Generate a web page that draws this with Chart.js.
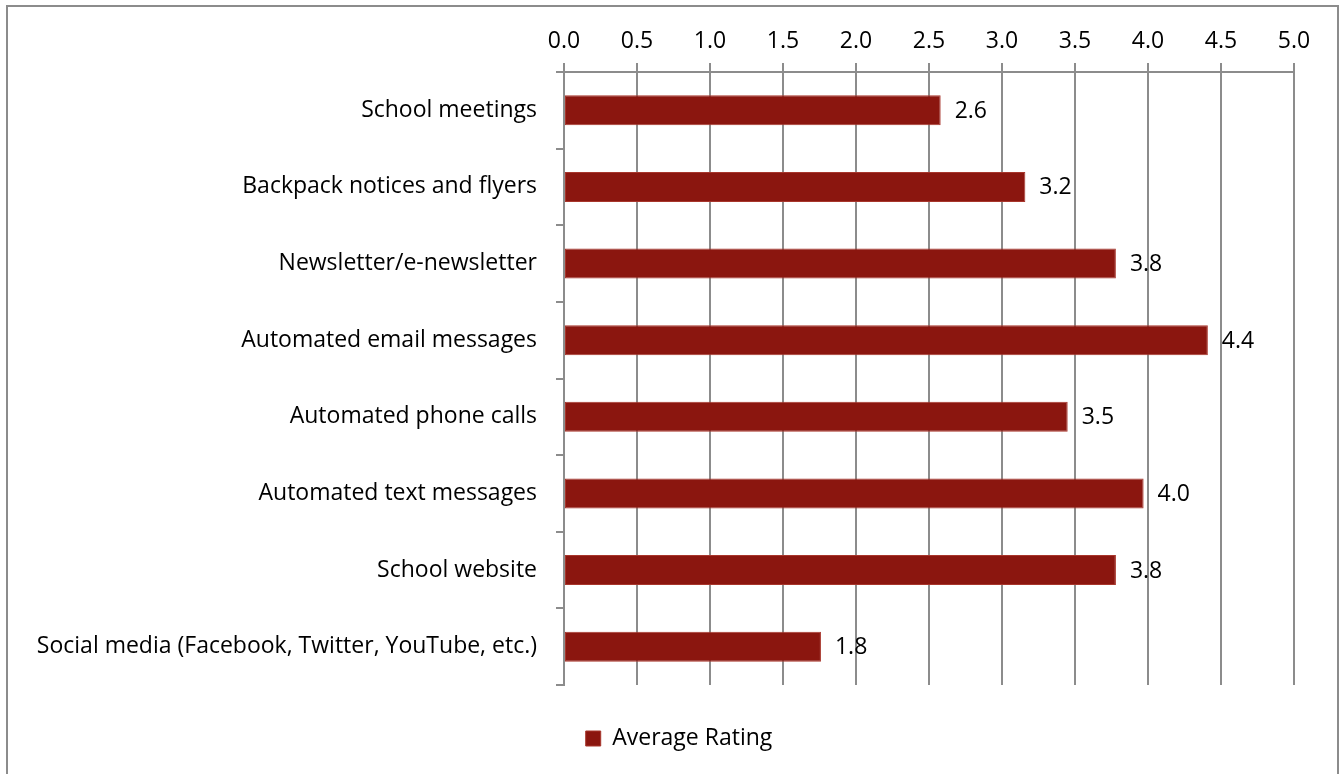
<!DOCTYPE html>
<html>
<head>
<meta charset="utf-8">
<script src="https://cdn.jsdelivr.net/npm/chart.js@4"></script>
<style>
  body { margin: 0; background: #fff; }
  #frame {
    position: absolute; left: 6px; top: 5px; width: 1329px; height: 800px;
    border: 2px solid #8c8c8c; box-sizing: content-box;
  }
  #wrap { position: absolute; left: 0; top: 0; width: 1340px; height: 774px; }
</style>
</head>
<body>
<div id="frame"></div>
<div id="wrap"><canvas id="chart" width="1340" height="774"></canvas></div>
<script>
// Chart data
const categories = [
  "School meetings",
  "Backpack notices and flyers",
  "Newsletter/e-newsletter",
  "Automated email messages",
  "Automated phone calls",
  "Automated text messages",
  "School website",
  "Social media (Facebook, Twitter, YouTube, etc.)",
];
const averageRating = [2.58, 3.16, 3.78, 4.41, 3.45, 3.97, 3.78, 1.76];
const axisMin = 0;
const axisMax = 5;
const axisStep = 0.5;

const barRed = "#8b160f";
const gridGray = "#8c8c8c";
const fontFamily = "'Open Sans', sans-serif";
const fontSize = 23;

// draws the value next to each bar
const valueLabels = {
  id: "valueLabels",
  afterDatasetsDraw(chart) {
    const ctx = chart.ctx;
    const meta = chart.getDatasetMeta(0);
    ctx.save();
    ctx.font = fontSize + "px " + fontFamily;
    ctx.fillStyle = "#000";
    ctx.textAlign = "left";
    ctx.textBaseline = "middle";
    meta.data.forEach((bar, i) => {
      ctx.fillText(averageRating[i].toFixed(1), bar.x + 14, bar.y + 1);
    });
    ctx.restore();
  },
};

// legend sits a bit right of the canvas centre in the original
const shiftLegend = {
  id: "shiftLegend",
  afterLayout(chart) {
    chart.legend.left += 32;
    chart.legend.right += 32;
  },
};

const canvas = document.getElementById("chart");

new Chart(canvas, {
  type: "bar",
  data: {
    labels: categories,
    datasets: [
      {
        label: "Average Rating",
        data: averageRating,
        backgroundColor: barRed,
        borderColor: "#a8362c",
        borderWidth: 1,
        borderSkipped: false,
        barPercentage: 0.39,
        categoryPercentage: 1,
      },
    ],
  },
  options: {
    indexAxis: "y",
    responsive: false,
    animation: false,
    layout: {
      padding: { left: 0, right: 46, top: 0, bottom: 14 },
    },
    scales: {
      x: {
        position: "top",
        min: axisMin,
        max: axisMax,
        afterFit: (scale) => {
          scale.height = 72;
        },
        ticks: {
          stepSize: axisStep,
          color: "#000",
          padding: 8,
          font: { family: fontFamily, size: fontSize },
          callback: (v) => Number(v).toFixed(1),
        },
        grid: {
          color: gridGray,
          lineWidth: 2,
          tickLength: 9,
        },
        border: { color: gridGray, width: 2 },
      },
      y: {
        afterFit: (scale) => {
          scale.width = 564;
        },
        ticks: {
          color: "#000",
          padding: 19,
          font: { family: fontFamily, size: fontSize },
        },
        grid: {
          offset: true,
          drawOnChartArea: false,
          color: gridGray,
          lineWidth: 2,
          tickLength: 8,
        },
        border: { color: gridGray, width: 2 },
      },
    },
    plugins: {
      legend: {
        position: "bottom",
        labels: {
          color: "#000",
          boxWidth: 15,
          boxHeight: 15,
          padding: 42,
          font: { family: fontFamily, size: fontSize },
        },
      },
      tooltip: { enabled: false },
    },
  },
  plugins: [valueLabels, shiftLegend],
});
</script>
</body>
</html>
